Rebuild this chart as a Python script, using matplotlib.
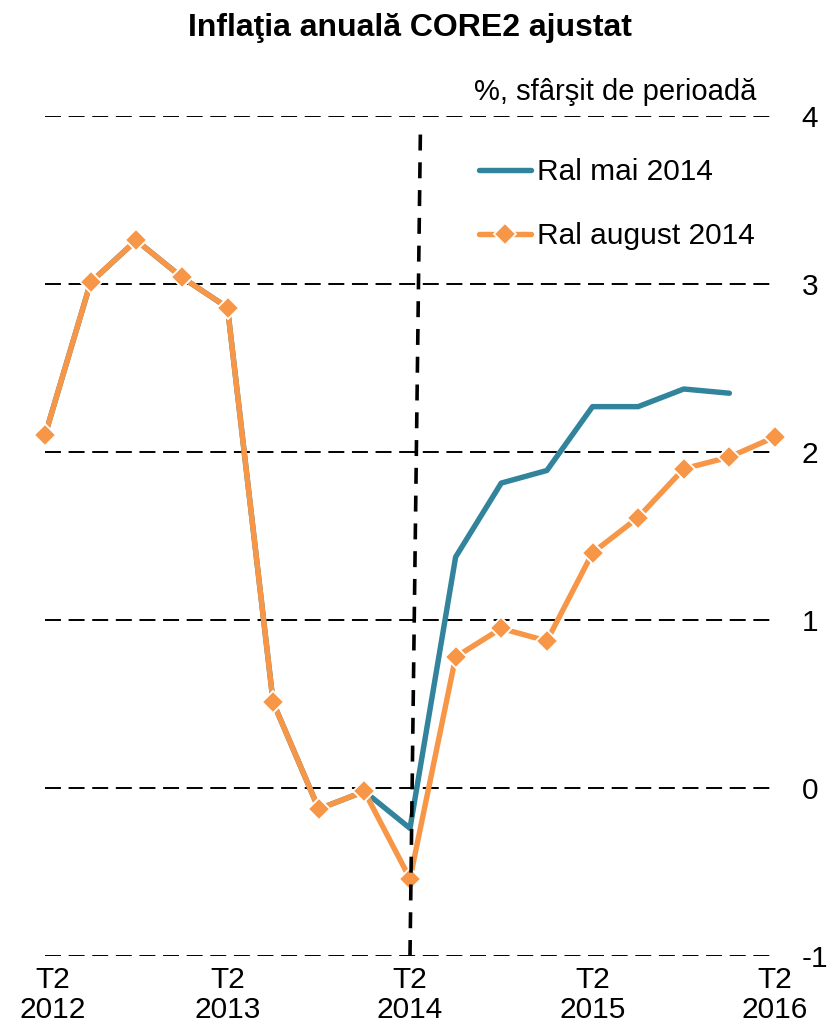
import matplotlib
matplotlib.use("Agg")
import matplotlib.pyplot as plt
import matplotlib.transforms as mtransforms
import numpy as np

plt.rcParams['font.family'] = ['Liberation Sans', 'DejaVu Sans']
plt.rcParams['lines.scale_dashes'] = False

# Quarters from T2 2012 to T2 2016
quarters = ["T2 2012", "T3 2012", "T4 2012", "T1 2013", "T2 2013", "T3 2013", "T4 2013",
            "T1 2014", "T2 2014", "T3 2014", "T4 2014", "T1 2015", "T2 2015", "T3 2015",
            "T4 2015", "T1 2016", "T2 2016"]

ral_mai = [2.10, 3.01, 3.26, 3.04, 2.86, 0.51, -0.125, -0.02, -0.24, 1.375, 1.815, 1.89,
           2.27, 2.27, 2.375, 2.35]
ral_august = [2.10, 3.01, 3.26, 3.04, 2.86, 0.51, -0.125, -0.02, -0.54, 0.78, 0.95, 0.875,
              1.40, 1.61, 1.90, 1.97, 2.09]

tick_positions = [0, 4, 8, 12, 16]
tick_labels = ["T2\n2012", "T2\n2013", "T2\n2014", "T2\n2015", "T2\n2016"]
y_ticks = [-1, 0, 1, 2, 3, 4]

teal = "#31849B"
orange = "#F79646"

fig = plt.figure(figsize=(8.27, 10.31), dpi=100)
ax = fig.add_axes([45 / 827, 1 - 956 / 1031, (775 - 45) / 827, (956 - 116) / 1031])

x_all = np.arange(len(quarters))

# horizontal dashed gridlines
for y in y_ticks:
    ax.plot([0, 15.94], [y, y], color="black", lw=1.4, ls=(0, (11.5, 5.5)), zorder=1,
            dash_capstyle="butt")

ax.plot(x_all[:len(ral_mai)], ral_mai, color=teal, lw=3.9, solid_capstyle="round",
        solid_joinstyle="round", zorder=3, label="Ral mai 2014", clip_on=False)
ax.plot(x_all, ral_august, color=orange, lw=3.9, marker="D", ms=11.5, mfc=orange,
        mec="white", mew=1.3, solid_joinstyle="round", solid_capstyle="round",
        zorder=4, label="Ral august 2014", clip_on=False)

# forecast boundary
ax.plot([8, 8.23], [-1, 3.95], color="black", lw=2.6, ls=(0, (11.5, 8.5)), zorder=5,
        dash_capstyle="butt", clip_on=False)

ax.set_xlim(0, 16)
ax.set_ylim(-1, 4)
ax.set_xticks(tick_positions)
ax.set_xticklabels(tick_labels, fontsize=21.5, linespacing=1.12)
ax.set_yticks(y_ticks)
ax.set_yticklabels([str(v) for v in y_ticks], fontsize=21.5)
ax.yaxis.tick_right()
ax.tick_params(axis="y", length=0, pad=19)
ax.tick_params(axis="x", length=0, pad=7)
for lbl in ax.get_yticklabels():
    lbl.set_horizontalalignment("left")
first = ax.get_xticklabels()[0]
first.set_transform(first.get_transform() +
                    mtransforms.ScaledTranslation(8 / 100, 0, fig.dpi_scale_trans))
for s in ax.spines.values():
    s.set_visible(False)

leg = ax.legend(loc="upper left", bbox_to_anchor=(0.578, 0.964), frameon=False,
                fontsize=21.5, handlelength=1.75, handletextpad=0.2, labelspacing=1.2,
                borderaxespad=0)

fig.text(410 / 827, 1 - 28 / 1031, "Inflaţia anuală CORE2 ajustat", ha="center",
         va="center", fontsize=23, fontweight="bold")
fig.text(756 / 827, 1 - 92 / 1031, "%, sfârşit de perioadă", ha="right", va="center",
         fontsize=21)

fig.savefig("out.png", dpi=100)
